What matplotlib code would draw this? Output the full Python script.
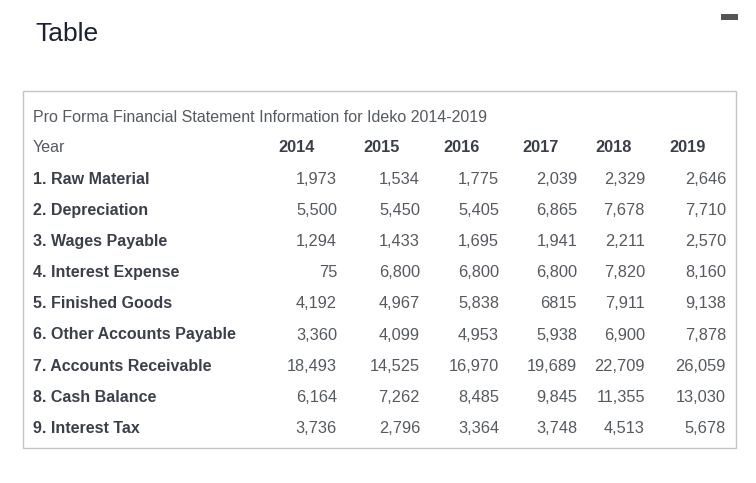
import matplotlib
matplotlib.use('Agg')
from matplotlib import pyplot as plt
from matplotlib.patches import Rectangle

plt.rcParams['font.family'] = ['Liberation Sans', 'DejaVu Sans']

W, H = 756, 483

title = 'Table'
subtitle = 'Pro Forma Financial Statement Information for Ideko 2014-2019'
years = ['2014', '2015', '2016', '2017', '2018', '2019']
items = ['1. Raw Material', '2. Depreciation', '3. Wages Payable',
         '4. Interest Expense', '5. Finished Goods', '6. Other Accounts Payable',
         '7. Accounts Receivable', '8. Cash Balance', '9. Interest Tax']
values = [
	['1,973', '1,534', '1,775', '2,039', '2,329', '2,646'],
	['5,500', '5,450', '5,405', '6,865', '7,678', '7,710'],
	['1,294', '1,433', '1,695', '1,941', '2,211', '2,570'],
	['75', '6,800', '6,800', '6,800', '7,820', '8,160'],
	['4,192', '4,967', '5,838', '6815', '7,911', '9,138'],
	['3,360', '4,099', '4,953', '5,938', '6,900', '7,878'],
	['18,493', '14,525', '16,970', '19,689', '22,709', '26,059'],
	['6,164', '7,262', '8,485', '9,845', '11,355', '13,030'],
	['3,736', '2,796', '3,364', '3,748', '4,513', '5,678'],
]

# layout in pixels (from top-left)
header_x = [297, 382, 462, 541, 614, 688]
value_right = [337, 420, 499, 577, 645, 726]
row_y0, row_dy = 179, 31.2
fs = 11.5

fig = plt.figure(figsize=(W / 100, H / 100), dpi=100)
ax = fig.add_axes([0, 0, 1, 1])
ax.set_xlim(0, W)
ax.set_ylim(H, 0)
ax.axis('off')

ax.text(35, 34, title, fontsize=19, color='#1d2030', va='center', ha='left')
# minimise bar, top right
ax.add_patch(Rectangle((721, 14), 17, 6, color='#555555', lw=0))

ax.add_patch(Rectangle((22.5, 90.5), 713, 357, fill=False, edgecolor='#c4c4c4', lw=1))

ax.text(33, 117, subtitle, fontsize=fs, color='#555a60', va='center', ha='left')
ax.text(33, 148, 'Year', fontsize=fs, color='#555a60', va='center', ha='left')
for x, yr in zip(header_x, years):
	ax.text(x, 148, yr, fontsize=fs + 0.3, color='#3a3f4a', fontweight='bold', va='center', ha='center')

for i, (name, row) in enumerate(zip(items, values)):
	y = row_y0 + i * row_dy
	ax.text(33, y, name, fontsize=fs, color='#3a3f4a', fontweight='bold', va='center', ha='left')
	for x, v in zip(value_right, row):
		ax.text(x, y, v, fontsize=fs + 0.3, color='#555a60', va='center', ha='right')

fig.savefig('out.png', dpi=100)
